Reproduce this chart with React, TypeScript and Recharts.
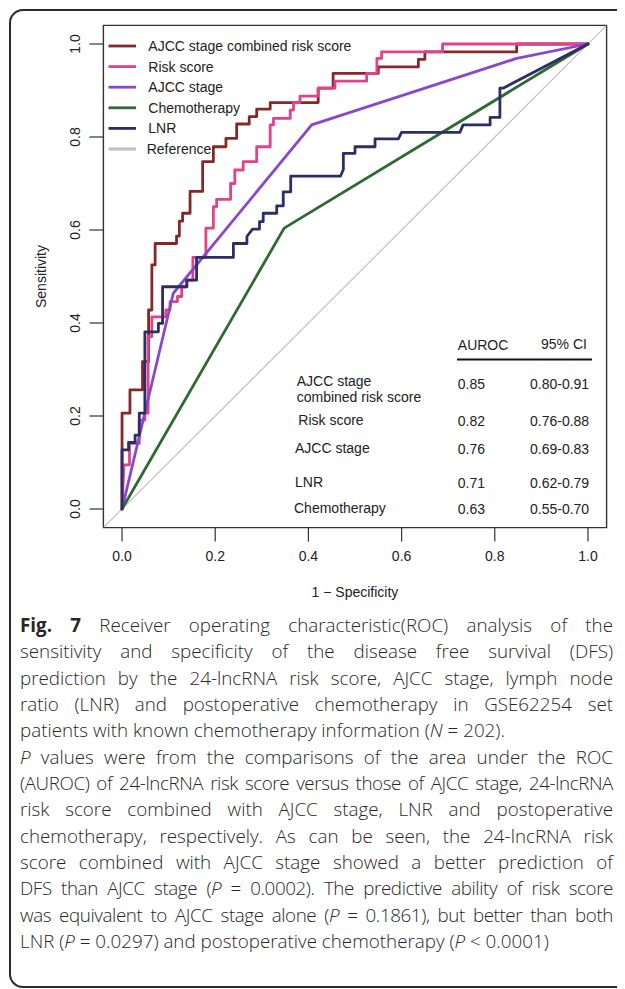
import { LineChart, Line, XAxis, YAxis, ReferenceArea } from "recharts";

// ROC curves, [1 - specificity, sensitivity]
const combinedPts = [
  [0, 0], [0, 0.206], [0.017, 0.206], [0.017, 0.256], [0.044, 0.256], [0.044, 0.317],
  [0.057, 0.317], [0.057, 0.428], [0.064, 0.428], [0.064, 0.525], [0.071, 0.525], [0.071, 0.571],
  [0.117, 0.571], [0.117, 0.587], [0.123, 0.587], [0.123, 0.619], [0.13, 0.619], [0.13, 0.636],
  [0.146, 0.636], [0.146, 0.683], [0.173, 0.683], [0.173, 0.747], [0.196, 0.747], [0.196, 0.779],
  [0.223, 0.779], [0.223, 0.797], [0.246, 0.797], [0.246, 0.828], [0.273, 0.828], [0.273, 0.844],
  [0.289, 0.844], [0.289, 0.86], [0.318, 0.86], [0.318, 0.874], [0.421, 0.874], [0.421, 0.905],
  [0.453, 0.905], [0.453, 0.937], [0.55, 0.937], [0.55, 0.951], [0.636, 0.951], [0.636, 0.967],
  [0.65, 0.967], [0.65, 0.983], [0.847, 0.983], [0.847, 1], [1, 1],
];
const riskPts = [
  [0, 0], [0.004, 0.095], [0.016, 0.095], [0.016, 0.141], [0.037, 0.141], [0.037, 0.191],
  [0.049, 0.191], [0.049, 0.206], [0.056, 0.206], [0.056, 0.371], [0.064, 0.371], [0.064, 0.413],
  [0.094, 0.413], [0.094, 0.428], [0.103, 0.428], [0.103, 0.446], [0.119, 0.446], [0.119, 0.457],
  [0.128, 0.457], [0.128, 0.478], [0.139, 0.478], [0.139, 0.492], [0.152, 0.492], [0.152, 0.541],
  [0.18, 0.541], [0.18, 0.604], [0.196, 0.604], [0.196, 0.65], [0.203, 0.65], [0.203, 0.666],
  [0.233, 0.666], [0.233, 0.7], [0.242, 0.7], [0.242, 0.729], [0.26, 0.729], [0.26, 0.747],
  [0.289, 0.747], [0.289, 0.779], [0.318, 0.779], [0.318, 0.826], [0.325, 0.826], [0.325, 0.84],
  [0.361, 0.84], [0.361, 0.858], [0.368, 0.858], [0.368, 0.874], [0.382, 0.874], [0.382, 0.888],
  [0.421, 0.888], [0.421, 0.905], [0.457, 0.905], [0.457, 0.92], [0.525, 0.92], [0.525, 0.937],
  [0.547, 0.937], [0.547, 0.969], [0.557, 0.969], [0.557, 0.983], [0.688, 0.983], [0.688, 1], [1, 1],
];
const ajccPts = [[0, 0], [0.11, 0.464], [0.407, 0.826], [0.847, 0.969], [1, 1]];
const chemoPts = [[0, 0], [0.348, 0.604], [1, 1]];
const lnrPts = [
  [0, 0], [0, 0.127], [0.014, 0.127], [0.014, 0.143], [0.028, 0.143], [0.028, 0.159],
  [0.037, 0.159], [0.037, 0.206], [0.049, 0.206], [0.049, 0.381], [0.078, 0.381], [0.078, 0.399],
  [0.087, 0.399], [0.087, 0.478], [0.139, 0.478], [0.139, 0.492], [0.16, 0.492], [0.16, 0.541],
  [0.239, 0.541], [0.239, 0.571], [0.268, 0.571], [0.268, 0.586], [0.28, 0.602], [0.295, 0.602],
  [0.295, 0.618], [0.303, 0.618], [0.303, 0.636], [0.332, 0.636], [0.332, 0.652], [0.346, 0.652],
  [0.346, 0.682], [0.362, 0.682], [0.362, 0.716], [0.469, 0.716], [0.475, 0.73], [0.475, 0.765],
  [0.5, 0.765], [0.5, 0.779], [0.543, 0.779], [0.543, 0.796], [0.593, 0.796], [0.6, 0.81],
  [0.725, 0.81], [0.732, 0.826], [0.79, 0.826], [0.79, 0.842], [0.811, 0.842], [0.811, 0.905],
  [0.818, 0.905], [1, 1],
];
const diagPts = [[-0.04, -0.04], [1.04, 1.04]];

const axisTicks = [0, 0.2, 0.4, 0.6, 0.8, 1];

const seriesNames = ["AJCC stage combined risk score", "Risk score", "AJCC stage", "Chemotherapy", "LNR", "Reference"];
const seriesColors = ["#862828", "#E2428A", "#8A46CF", "#2E6A33", "#2D2E66", "#C2C2C2"];

const tableRows = [
  { label: ["AJCC stage", "combined risk score"], auroc: "0.85", ci: "0.80-0.91" },
  { label: ["Risk score"], auroc: "0.82", ci: "0.76-0.88" },
  { label: ["AJCC stage"], auroc: "0.76", ci: "0.69-0.83" },
  { label: ["LNR"], auroc: "0.71", ci: "0.62-0.79" },
  { label: ["Chemotherapy"], auroc: "0.63", ci: "0.55-0.70" },
];

const toRows = (pts: number[][]) => pts.map(([x, y]) => ({ x, y }));

const FONT = "'Liberation Sans', Arial, sans-serif";
const CAP = "'Open Sans', 'Noto Sans', sans-serif";

function YTick(props: any) {
  const { x, y, payload } = props;
  return (
    <text x={x} y={y} transform={`rotate(-90, ${x}, ${y})`} textAnchor="middle"
      fontSize={14} fontFamily={FONT} fill="#222">
      {Number(payload.value).toFixed(1)}
    </text>
  );
}

// positions below are relative to the root div (page - 8px body margin)
const legendRows = [38, 58.6, 79.2, 99.8, 120.4, 141];
const tableRowY = [373, 412, 440.3, 474.3, 500.3];
const tableLabelX = [288.7, 290.3, 287, 287, 286];

const capLine: React.CSSProperties = {
  position: "absolute", left: 12, width: 593, height: 26, lineHeight: "26px",
  fontFamily: CAP, fontSize: 18.8, fontWeight: 300, color: "#2a2627", textAlign: "justify",
  textAlignLast: "justify", whiteSpace: "nowrap",
};
const capPlain: React.CSSProperties = { ...capLine, textAlign: "left", textAlignLast: "left" };
const capTight: React.CSSProperties = { ...capLine, letterSpacing: -0.4 };

export default function App() {
  const series = [combinedPts, riskPts, ajccPts, chemoPts, lnrPts];
  const capTop = (i: number) => 604 + i * 26.33;

  return (
    <div style={{ position: "relative", width: 617, height: 981, overflow: "hidden", background: "#fff" }}>
      {/* rounded figure frame */}
      <div style={{
        position: "absolute", left: 1, top: 1, width: 660, height: 979, boxSizing: "border-box",
        border: "2px solid #2b2b2b", borderRadius: 14,
      }} />

      <div style={{ position: "absolute", left: 0, top: 0 }}>
        <LineChart width={617} height={600} margin={{ top: 17.4, right: 18.4, bottom: 20.4, left: 35.4 }}>
          <XAxis dataKey="x" type="number" domain={[-0.04, 1.04]} allowDataOverflow ticks={axisTicks}
            tickFormatter={(v: number) => v.toFixed(1)} axisLine={false}
            tickLine={{ stroke: "#333", strokeWidth: 1.2 }} tickSize={14} tickMargin={9} height={60}
            tick={{ fontSize: 14, fontFamily: FONT, fill: "#222" }} />
          <YAxis dataKey="y" type="number" domain={[-0.04, 1.04]} allowDataOverflow ticks={axisTicks}
            axisLine={false} tickLine={{ stroke: "#333", strokeWidth: 1.2 }} tickSize={14} tickMargin={9.4}
            width={60} tick={(p: any) => <YTick {...p} />} />
          <ReferenceArea x1={-0.04} x2={1.04} y1={-0.04} y2={1.04} fill="none" fillOpacity={0}
            stroke="#333" strokeWidth={1.4} ifOverflow="visible" />
          <Line data={toRows(diagPts)} dataKey="y" type="linear" stroke={seriesColors[5]} strokeWidth={1.2}
            dot={false} activeDot={false} isAnimationActive={false} />
          {series.map((pts, i) => (
            <Line key={seriesNames[i]} data={toRows(pts)} dataKey="y" type="linear" stroke={seriesColors[i]}
              strokeWidth={2.8} strokeLinejoin="round" strokeLinecap="round"
              dot={false} activeDot={false} isAnimationActive={false} />
          ))}
        </LineChart>
      </div>

      <svg width={617} height={600} style={{ position: "absolute", left: 0, top: 0, pointerEvents: "none" }}
        fontFamily={FONT} fill="#222">
        {/* legend */}
        {seriesNames.map((n, i) => (
          <g key={n}>
            <line x1={100.5} x2={128} y1={legendRows[i]} y2={legendRows[i]} stroke={seriesColors[i]}
              strokeWidth={i === 5 ? 3.2 : 2.8} />
            <text x={i === 5 ? 138.7 : 140.3} y={legendRows[i]} dy="0.35em" fontSize={14}>{n}</text>
          </g>
        ))}

        {/* AUROC table */}
        <text x={449.8} y={337} dy="0.35em" fontSize={14}>AUROC</text>
        <text x={533} y={336} dy="0.35em" fontSize={14}>95% CI</text>
        <line x1={449} x2={584} y1={351.5} y2={351.5} stroke="#111" strokeWidth={2} />
        {tableRows.map((r, i) => (
          <g key={i}>
            {r.label.map((l, j) => (
              <text key={l} x={tableLabelX[i]} y={tableRowY[i] + j * 16} dy="0.35em" fontSize={14}>{l}</text>
            ))}
            <text x={449.8} y={tableRowY[i] + (i === 0 ? 2.7 : 1)} dy="0.35em" fontSize={14}>{r.auroc}</text>
            <text x={522} y={tableRowY[i] + (i === 0 ? 2.7 : 1)} dy="0.35em" fontSize={14}>{r.ci}</text>
          </g>
        ))}

        {/* axis titles */}
        <text x={38} y={268.5} transform="rotate(-90, 38, 268.5)" textAnchor="middle" fontSize={14}>Sensitivity</text>
        <text x={347} y={589} textAnchor="middle" fontSize={14}>1 − Specificity</text>
      </svg>

      {/* caption */}
      <div style={{ ...capLine, top: capTop(0) }}><b style={{ fontWeight: 700 }}>Fig. 7</b> Receiver operating characteristic(ROC) analysis of the</div>
      <div style={{ ...capLine, top: capTop(1) }}>sensitivity and specificity of the disease free survival (DFS)</div>
      <div style={{ ...capLine, top: capTop(2) }}>prediction by the 24-lncRNA risk score, AJCC stage, lymph node</div>
      <div style={{ ...capLine, top: capTop(3) }}>ratio (LNR) and postoperative chemotherapy in GSE62254 set</div>
      <div style={{ ...capPlain, top: capTop(4) }}>patients with known chemotherapy information (<i>N</i> = 202).</div>
      <div style={{ ...capLine, top: capTop(5) }}><i>P</i> values were from the comparisons of the area under the ROC</div>
      <div style={{ ...capTight, top: capTop(6) }}>(AUROC) of 24-lncRNA risk score versus those of AJCC stage, 24-lncRNA</div>
      <div style={{ ...capLine, top: capTop(7) }}>risk score combined with AJCC stage, LNR and postoperative</div>
      <div style={{ ...capLine, top: capTop(8) }}>chemotherapy, respectively. As can be seen, the 24-lncRNA risk</div>
      <div style={{ ...capLine, top: capTop(9) }}>score combined with AJCC stage showed a better prediction of</div>
      <div style={{ ...capTight, top: capTop(10) }}>DFS than AJCC stage (<i>P</i> = 0.0002). The predictive ability of risk score</div>
      <div style={{ ...capTight, top: capTop(11) }}>was equivalent to AJCC stage alone (<i>P</i> = 0.1861), but better than both</div>
      <div style={{ ...capPlain, top: capTop(12) }}>LNR (<i>P</i> = 0.0297) and postoperative chemotherapy (<i>P</i> &lt; 0.0001)</div>
    </div>
  );
}
